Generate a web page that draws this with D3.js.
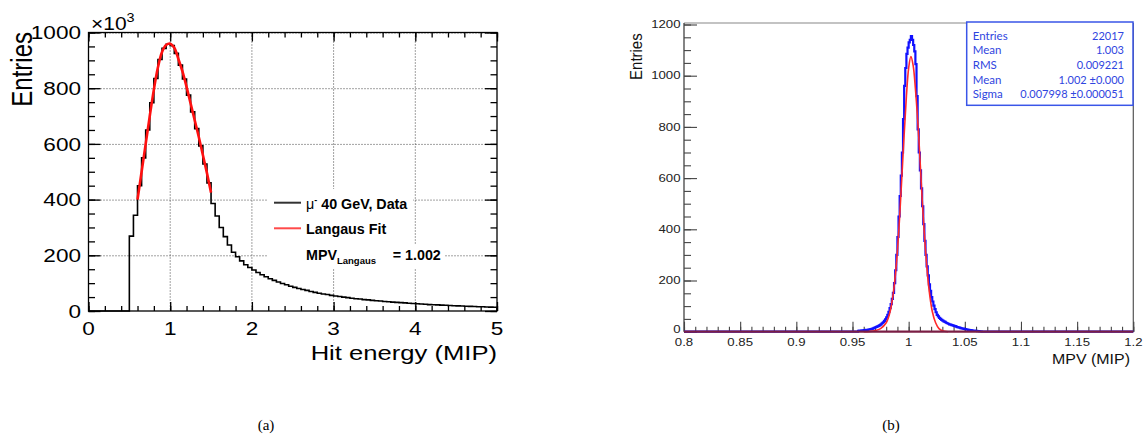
<!DOCTYPE html>
<html><head><meta charset="utf-8">
<script src="https://cdn.jsdelivr.net/npm/d3@7/dist/d3.min.js"></script>
<style>body{margin:0;background:#fff}svg{display:block}</style>
</head><body><svg id="c" width="1144" height="435"></svg>
<script>
// ---------- Data: left panel (Hit energy, units of 10^3 entries) ----------
const leftBinStart = 0, leftBinWidth = 0.05;
const leftCounts = [
  0,0,0,0,0,0,0,0,0,0,
  269,344,450,550,650,748,835,903,943,958,
  953,925,883,833,775,715,655,593,528,460,
  386,341,300,267,237,211,195,180,166,156,
  147,138,130,123,116,110,104,99,94,89,
  85,81,77,74,70,67,64,61,59,56,
  54,52,50,48,46,44,43,41,40,38,
  37,36,34,33,32,31,30,29,28,27,
  26,25,24,23,22.5,22,21,20.5,20,19,
  18.5,18,17,16.5,16,15.5,15,14.5,14,13.5
];
const leftFitX = [0.60,0.65,0.70,0.75,0.80,0.85,0.90,0.95,1.00,1.05,1.10,1.15,1.20,1.25,1.30,1.35,1.40,1.45,1.50];
const leftFitY = [400,500,600,700,795,875,930,955,960,945,905,860,805,745,685,625,560,495,425];
const leftXTicks = [0,1,2,3,4,5];
const leftYTicks = [0,200,400,600,800,1000];
const leftLegend = ["40 GeV, Data","Langaus Fit"];

// ---------- Data: right panel (MPV distribution) ----------
const rightBinStart = 0.955, rightBinWidth = 0.001;
const rightCounts = [
  3,4,4,5,5,6,6,7,7,8,
  9,10,11,13,15,17,19,21,23,26,
  29,33,37,42,48,56,66,78,92,108,
  128,152,190,240,300,370,450,530,610,700,
  830,960,1030,1085,1110,1130,1140,1155,1140,1120,
  1095,1045,920,790,700,630,560,490,420,355,
  300,255,220,185,160,135,118,102,88,76,
  66,60,54,50,46,43,40,38,35,33,
  31,29,28,26,25,23,22,20,18,17,
  16,14,13,12,11,10,9,8,7,6,
  6,5,4,4,3,3,2,2,1,1
];
const rightFitX = [0.960,0.965,0.970,0.975,0.980,0.983,0.986,0.989,0.992,0.995,0.998,1.000,1.002,1.004,1.006,1.009,1.012,1.015,1.018,1.021,1.024,1.027,1.030,1.035];
const rightFitY = [0,1,4,12,35,70,140,260,450,690,920,1030,1075,1040,950,760,520,320,170,80,35,12,4,0];
const rightXTicks = [0.8,0.85,0.9,0.95,1,1.05,1.1,1.15,1.2];
const rightXTickLabels = ["0.8","0.85","0.9","0.95","1","1.05","1.1","1.15","1.2"];
const rightYTicks = [0,200,400,600,800,1000,1200];
const statLabels = ["Entries","Mean","RMS","Mean","Sigma"];
const statValues = ["22017","1.003","0.009221","1.002 \u00b10.000","0.007998 \u00b10.000051"];

const svg = d3.select("#c");
svg.append("rect").attr("width",1144).attr("height",435).attr("fill","#fff");
const SANS = "'Liberation Sans', Arial, Helvetica, sans-serif";

function sText(g, x, y, str, size, sx, anchor, opts={}) {
  const t = g.append("text")
    .attr("transform", `translate(${x},${y}) scale(${sx},1)` + (opts.rot ? ` rotate(${opts.rot})` : ""))
    .attr("font-family", opts.family || SANS)
    .attr("font-size", size)
    .attr("font-weight", opts.weight || "normal")
    .attr("fill", opts.fill || "#000")
    .attr("text-anchor", anchor)
    .text(str);
  if (opts.dy) t.attr("dy", opts.dy);
  return t;
}
function stepPoints(start, w, counts, lo, hi) {
  const pts = [[lo, 0]];
  if (start > lo) pts.push([start, 0]);
  counts.forEach((c, i) => pts.push([start + i * w, c]));
  const end = start + counts.length * w;
  pts.push([end, counts[counts.length - 1]]);
  pts.push([end, 0]);
  if (end < hi) pts.push([hi, 0]);
  return pts;
}
const range = (a, b, s) => d3.range(Math.round((b - a) / s) + 1).map(i => +(a + i * s).toFixed(6));

// ================= LEFT PANEL =================
const L = svg.append("g");
const xL = d3.scaleLinear().domain([0, 5]).range([88.5, 497]);
const yL = d3.scaleLinear().domain([0, 1000]).range([311, 32.5]);

// grid
const grid = L.append("g").attr("stroke", "#444").attr("stroke-width", 1).attr("stroke-dasharray", "1,2");
leftXTicks.slice(1, -1).forEach(v => grid.append("line").attr("x1", xL(v)).attr("x2", xL(v)).attr("y1", yL(1000)).attr("y2", yL(0)));
leftYTicks.slice(1).forEach(v => grid.append("line").attr("x1", xL(0)).attr("x2", xL(5)).attr("y1", yL(v) + 0.5).attr("y2", yL(v) + 0.5));

// legend background
L.append("rect").attr("x", 267).attr("y", 189).attr("width", 146).attr("height", 79).attr("fill", "#fff");
L.append("rect").attr("x", 267).attr("y", 244).attr("width", 178).attr("height", 24).attr("fill", "#fff");

// histogram
L.append("path")
  .datum(stepPoints(leftBinStart, leftBinWidth, leftCounts, 0, 5))
  .attr("fill", "none").attr("stroke", "#000").attr("stroke-width", 1.6)
  .attr("d", d3.line().x(d => xL(d[0])).y(d => yL(d[1])).curve(d3.curveStepAfter));

// fit
L.append("path")
  .datum(leftFitX.map((x, i) => [x, leftFitY[i]]))
  .attr("fill", "none").attr("stroke", "#ff1010").attr("stroke-width", 2.6)
  .attr("d", d3.line().x(d => xL(d[0])).y(d => yL(d[1])).curve(d3.curveCatmullRom));

// frame
L.append("rect").attr("x", xL(0)).attr("y", yL(1000)).attr("width", xL(5) - xL(0)).attr("height", yL(0) - yL(1000))
  .attr("fill", "none").attr("stroke", "#000").attr("stroke-width", 1.3);

// ticks via axes
function tickAxis(g, axis, tr) {
  const a = g.append("g").attr("transform", tr).call(axis);
  a.select(".domain").remove();
  a.selectAll("line").attr("stroke", "#000").attr("stroke-width", 1.3);
  a.selectAll("text").remove();
}
const xMinorL = range(0, 5, 0.2), yMinorL = range(0, 1000, 50);
tickAxis(L, d3.axisBottom(xL).tickValues(leftXTicks).tickSize(-9), `translate(0,${yL(0)})`);
tickAxis(L, d3.axisBottom(xL).tickValues(xMinorL).tickSize(-5), `translate(0,${yL(0)})`);
tickAxis(L, d3.axisTop(xL).tickValues(leftXTicks).tickSize(-9), `translate(0,${yL(1000)})`);
tickAxis(L, d3.axisTop(xL).tickValues(xMinorL).tickSize(-5), `translate(0,${yL(1000)})`);
tickAxis(L, d3.axisLeft(yL).tickValues(leftYTicks).tickSize(-12), `translate(${xL(0)},0)`);
tickAxis(L, d3.axisLeft(yL).tickValues(yMinorL).tickSize(-6.5), `translate(${xL(0)},0)`);
tickAxis(L, d3.axisRight(yL).tickValues(leftYTicks).tickSize(-12), `translate(${xL(5)},0)`);
tickAxis(L, d3.axisRight(yL).tickValues(yMinorL).tickSize(-6.5), `translate(${xL(5)},0)`);

// tick labels
leftXTicks.forEach(v => sText(L, xL(v), 335, String(v), 18.5, 1.22, "middle"));
leftYTicks.forEach(v => sText(L, 81, yL(v), String(v), 18.5, 1.22, "end", {dy: "0.36em"}));
// exponent
const ex = sText(L, 91, 29.5, "\u00d710", 17.5, 1.2, "start");
ex.append("tspan").attr("font-size", 12).attr("dy", -7.5).text("3");
// axis titles
sText(L, 497, 360, "Hit energy (MIP)", 21, 1.22, "end");
sText(L, 32, 32, "Entries", 24, 1.22, "end", {rot: -90});

// legend
L.append("line").attr("x1", 274).attr("x2", 301).attr("y1", 202.7).attr("y2", 202.7).attr("stroke", "#333").attr("stroke-width", 2);
L.append("line").attr("x1", 274).attr("x2", 301).attr("y1", 228.3).attr("y2", 228.3).attr("stroke", "#ff4a4a").attr("stroke-width", 2);
const l1 = L.append("text").attr("x", 306).attr("y", 209).attr("font-family", SANS).attr("font-size", 14.3).attr("font-weight", "bold");
l1.append("tspan").attr("font-weight", "normal").text("\u03bc");
l1.append("tspan").attr("font-size", 9).attr("dy", -6).text("-");
l1.append("tspan").attr("dy", 6).text(" " + leftLegend[0]);
L.append("text").attr("x", 306).attr("y", 234).attr("font-family", SANS).attr("font-size", 14.3).attr("font-weight", "bold").text(leftLegend[1]);
const l3 = L.append("text").attr("x", 306).attr("y", 260).attr("font-family", SANS).attr("font-size", 14.3).attr("font-weight", "bold");
l3.append("tspan").text("MPV");
l3.append("tspan").attr("font-size", 9.5).attr("dy", 4).text("Langaus");
L.append("text").attr("x", 392.7).attr("y", 260).attr("font-family", SANS).attr("font-size", 14.3).attr("font-weight", "bold").text("= 1.002");

// ================= RIGHT PANEL =================
const R = svg.append("g");
const xR = d3.scaleLinear().domain([0.8, 1.2]).range([684, 1133.3]);
const yR = d3.scaleLinear().domain([0, 1200]).range([331.7, 24.5]);

// frame lines
R.append("line").attr("x1", xR(0.8)).attr("x2", xR(1.2)).attr("y1", 23).attr("y2", 23).attr("stroke", "#888").attr("stroke-width", 1.2);
R.append("line").attr("x1", xR(1.2)).attr("x2", xR(1.2)).attr("y1", 23).attr("y2", yR(0)).attr("stroke", "#555").attr("stroke-width", 1.2);
R.append("line").attr("x1", xR(0.8)).attr("x2", xR(0.8)).attr("y1", 23).attr("y2", yR(0)).attr("stroke", "#333").attr("stroke-width", 1.2);

// ticks
function tickAxisR(g, axis, tr) {
  const a = g.append("g").attr("transform", tr).call(axis);
  a.select(".domain").remove();
  a.selectAll("line").attr("stroke", "#444").attr("stroke-width", 1.1);
  a.selectAll("text").remove();
}
tickAxisR(R, d3.axisLeft(yR).tickValues(rightYTicks).tickSize(-13), `translate(${xR(0.8)},0)`);
tickAxisR(R, d3.axisLeft(yR).tickValues(range(0, 1200, 50)).tickSize(-7), `translate(${xR(0.8)},0)`);
tickAxisR(R, d3.axisBottom(xR).tickValues(rightXTicks).tickSize(-10), `translate(0,${yR(0)})`);
tickAxisR(R, d3.axisBottom(xR).tickValues(range(0.8, 1.2, 0.01)).tickSize(-5), `translate(0,${yR(0)})`);

// blue histogram
R.append("path")
  .datum(stepPoints(rightBinStart, rightBinWidth, rightCounts, 0.8, 1.2))
  .attr("fill", "none").attr("stroke", "#1010ff").attr("stroke-width", 2.2)
  .attr("d", d3.line().x(d => xR(d[0])).y(d => yR(d[1])).curve(d3.curveStepAfter));
// red fit
R.append("path")
  .datum(rightFitX.map((x, i) => [x, rightFitY[i]]))
  .attr("fill", "none").attr("stroke", "#ff2a2a").attr("stroke-width", 1.6)
  .attr("d", d3.line().x(d => xR(d[0])).y(d => yR(d[1])).curve(d3.curveCatmullRom));
// baseline (fit at zero over histogram)
R.append("line").attr("x1", xR(0.8)).attr("x2", xR(1.2)).attr("y1", yR(0)).attr("y2", yR(0)).attr("stroke", "#7a1e44").attr("stroke-width", 2.2);

// tick labels
rightXTicks.forEach((v, i) => sText(R, xR(v), 346, rightXTickLabels[i], 11, 1.2, "middle", {fill: "#222"}));
rightYTicks.forEach(v => sText(R, 680.5, yR(v) - (v === 0 ? 2 : 0), String(v), 11, 1.2, "end", {dy: "0.33em", fill: "#222"}));
sText(R, 1130, 364, "MPV (MIP)", 14, 1.14, "end", {fill: "#111"});
sText(R, 641.5, 33.3, "Entries", 15, 1.1, "end", {rot: -90, fill: "#111"});

// stats box
R.append("rect").attr("x", 966.7).attr("y", 22).attr("width", 166.3).attr("height", 83.3)
  .attr("fill", "#fff").attr("stroke", "#3a56e8").attr("stroke-width", 1.5);
const STAT = "Lato, 'Open Sans', sans-serif";
statLabels.forEach((s, i) => {
  R.append("text").attr("x", 972.7).attr("y", 39.5 + i * 14.7).attr("font-family", STAT).attr("font-size", 11.5).attr("fill", "#2f45e0").text(s);
  R.append("text").attr("x", 1124).attr("y", 39.5 + i * 14.7).attr("font-family", STAT).attr("font-size", 11).attr("fill", "#2f45e0").attr("text-anchor", "end").text(statValues[i]);
});

// captions
const SERIF = "'Liberation Serif', 'Times New Roman', serif";
svg.append("text").attr("x", 266).attr("y", 430).attr("font-family", SERIF).attr("font-size", 15).attr("text-anchor", "middle").text("(a)");
svg.append("text").attr("x", 891).attr("y", 430).attr("font-family", SERIF).attr("font-size", 15).attr("text-anchor", "middle").text("(b)");
</script></body></html>
